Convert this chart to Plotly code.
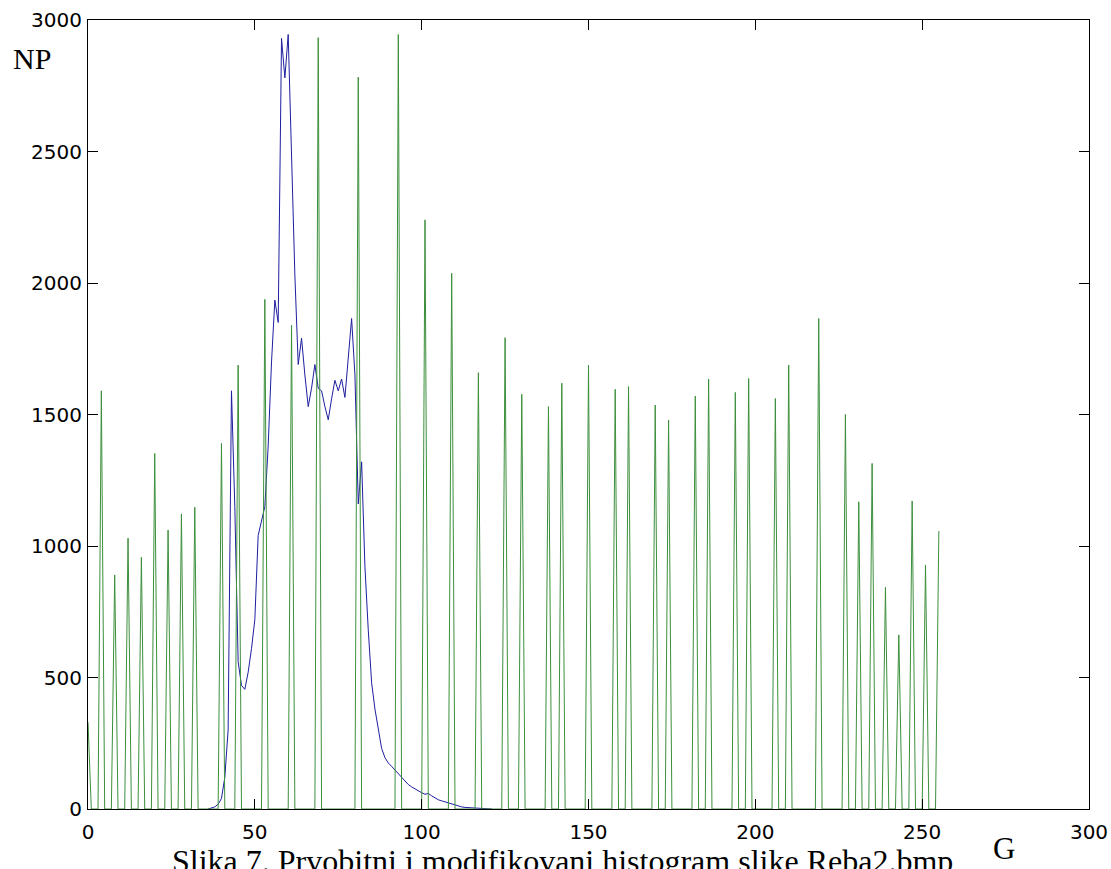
import plotly.graph_objects as go

# Original histogram: gray levels 36..121 and pixel counts
orig_levels = list(range(36, 122))
orig_counts = [
    0, 3, 8, 18, 40, 120, 300, 1590, 1150, 560,
    470, 455, 520, 610, 720, 1040, 1100, 1150, 1380, 1700,
    1935, 1850, 2930, 2780, 2945, 2500, 2030, 1690, 1790, 1650,
    1530, 1600, 1690, 1600, 1590, 1530, 1480, 1560, 1630, 1590,
    1635, 1565, 1720, 1865, 1650, 1160, 1320, 920, 680, 480,
    380, 310, 230, 195, 175, 162, 148, 132, 117, 104,
    93, 84, 76, 69, 62, 56, 59, 50, 42, 35,
    31, 27, 22, 18, 14, 10, 8, 6, 5, 4,
    3, 3, 2, 1, 1, 0,
]

# Modified (equalized) histogram: occupied gray levels and their counts
mod_levels = [0, 4, 8, 12, 16, 20, 24, 28, 32, 40, 45, 53, 61, 69, 81, 93,
              101, 109, 117, 125, 130, 138, 142, 150, 158, 162, 170, 174,
              182, 186, 194, 198, 206, 210, 219, 227, 231, 235, 239, 243,
              247, 251, 255]
mod_counts = [330, 1590, 890, 1030, 957, 1352, 1061, 1122, 1147, 1390, 1688,
              1938, 1840, 2933, 2783, 2945, 2240, 2037, 1659, 1792, 1577,
              1530, 1619, 1688, 1596, 1606, 1536, 1479, 1570, 1635, 1584,
              1637, 1561, 1688, 1865, 1500, 1168, 1314, 843, 662, 1171,
              928, 1057]

x_ticks = [0, 50, 100, 150, 200, 250, 300]
y_ticks = [0, 500, 1000, 1500, 2000, 2500, 3000]

# full 0..255 histogram for the modified image (empty bins are zero)
gray = list(range(256))
mod_hist = [0] * 256
for g, c in zip(mod_levels, mod_counts):
    mod_hist[g] = c

fig = go.Figure()
fig.add_trace(go.Scatter(x=orig_levels, y=orig_counts, mode="lines",
                         line=dict(color="#1e1ea0", width=1), showlegend=False))
fig.add_trace(go.Scatter(x=gray, y=mod_hist, mode="lines",
                         line=dict(color="#3c8f3c", width=1), showlegend=False))

axis_common = dict(
    showline=True, linecolor="black", linewidth=1, mirror="ticks",
    ticks="inside", ticklen=10, tickcolor="black", tickwidth=1,
    showgrid=False, zeroline=False, automargin=False,
    tickfont=dict(family="DejaVu Sans", size=20, color="black"),
)

fig.update_xaxes(range=[0, 300], tickvals=x_ticks, ticklabelstandoff=5,
                 **axis_common)
fig.update_yaxes(range=[0, 3000], tickvals=y_ticks, ticklabelstandoff=1,
                 **axis_common)

serif = dict(family="Liberation Serif", color="black")
fig.add_annotation(text="NP", x=32, y=58, showarrow=False,
                   font=dict(size=30, **serif))
fig.add_annotation(text="G", x=1004, y=848, showarrow=False,
                   font=dict(size=31, **serif))
fig.add_annotation(text="Slika 7. Prvobitni i modifikovani histogram slike Reba2.bmp",
                   x=562, y=861, showarrow=False, font=dict(size=32, **serif))

# place the free-standing labels in page pixel coordinates
W, H = 1111, 869
ML, MR, MT, MB = 88, 22, 20, 60
for a in fig.layout.annotations:
    px, py = a.x, a.y
    a.xref = "paper"
    a.yref = "paper"
    a.x = (px - ML) / (W - ML - MR)
    a.y = 1 - (py - MT) / (H - MT - MB)
    a.xanchor = "center"
    a.yanchor = "middle"

fig.update_layout(
    width=W, height=H,
    margin=dict(l=ML, r=MR, t=MT, b=MB),
    paper_bgcolor="white", plot_bgcolor="white",
)

fig.write_html("out.html")
